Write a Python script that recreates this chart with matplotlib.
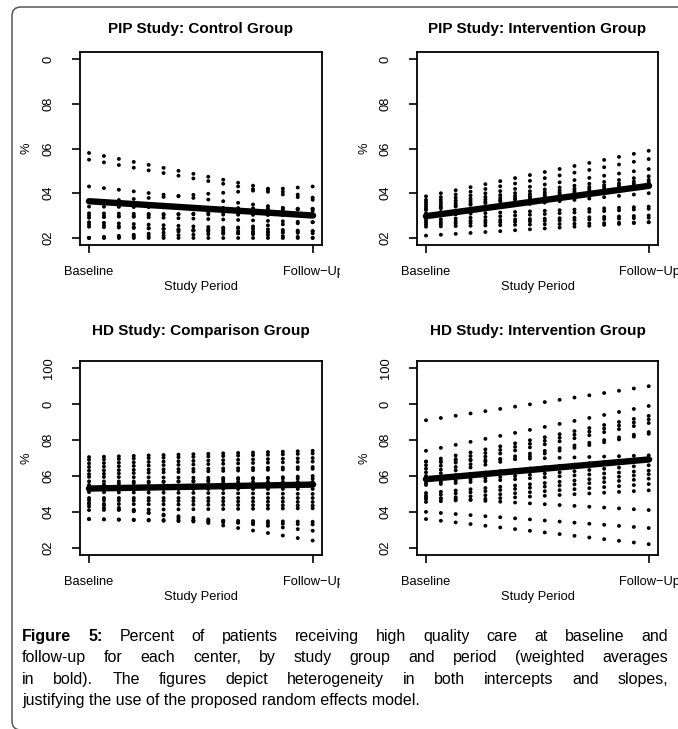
import numpy as np
import matplotlib.pyplot as plt
from matplotlib.patches import FancyBboxPatch
from matplotlib.transforms import Bbox, TransformedBbox

plt.rcParams['font.family'] = 'Liberation Sans'
plt.rcParams['lines.scale_dashes'] = False

W, H = 678, 729

#%% data (percent at baseline / follow-up for each center)
x_labels = ['Baseline', 'Follow\u2212Up']

pip_ctrl_base = [58, 55, 43, 36, 34, 31, 30, 29, 27, 25, 20, 20, 20, 26]
pip_ctrl_follow = [38, 37, 32, 43, 33, 30, 27, 33, 23, 22, 20, 27, 23, 20]
pip_ctrl_mean = [36.4, 30.0]

pip_int_base = [38.6, 37, 36, 35, 34, 32.5, 31, 30, 28, 27, 25, 21, 26, 33]
pip_int_follow = [59, 55.3, 50.8, 47.6, 46, 44, 40, 34, 33, 30, 27, 27, 29, 45]
pip_int_mean = [29.7, 43.3]

hd_comp_base = [70.5, 69, 67, 65, 63, 61, 59.5, 57, 55, 54, 53, 51, 48, 46.5,
                44.5, 43, 41, 45, 36, 36]
hd_comp_follow = [74, 72.5, 70, 68, 65, 64, 58.5, 56.7, 60, 55, 53, 50, 48, 45.5,
                  43.5, 29.5, 42, 24, 34.5, 33]
hd_comp_mean = [53.0, 55.2]

hd_int_base = [91, 74, 68, 66, 64, 62, 60, 68, 59, 56, 55, 50.5, 49, 47, 45.5,
               48, 40, 36]
hd_int_follow = [110, 99, 93.5, 91.5, 89.5, 84.5, 83.5, 71.5, 70, 66, 63, 61,
                 58.5, 55.5, 52, 41, 31, 22]
hd_int_mean = [58.2, 69.2]

pip_yticks = [20, 40, 60, 80, 100]
pip_ylabels = ['02', '04', '06', '08', '0']
hd_yticks = [20, 40, 60, 80, 100, 120]
hd_ylabels = ['02', '04', '06', '08', '0', '100']

caption = [
    [('Figure', 'bold'), ('5:', 'bold')] + [(w, 'normal') for w in
        'Percent of patients receiving high quality care at baseline and'.split()],
    [(w, 'normal') for w in
        'follow-up for each center, by study group and period (weighted averages'.split()],
    [(w, 'normal') for w in
        'in bold). The figures depict heterogeneity in both intercepts and slopes,'.split()],
]
caption_last = 'justifying the use of the proposed random effects model.'
cap_size = 11.5

fig = plt.figure(figsize=(W / 100, H / 100), dpi=100)


def fx(px):
    return px / W


def fy(py):
    return 1 - py / H


def panel(box, title, title_y, base, follow, mean, yticks, ylabels, clip_right=None):
    l, t, r, b = box
    ax = fig.add_axes([fx(l), fy(b), (r - l) / W, (b - t) / H])
    ax.set_xlim(-0.04, 1.04)
    span = yticks[-1] - yticks[0]
    ax.set_ylim(yticks[0] - 0.04 * span, yticks[-1] + 0.04 * span)
    for b0, f0 in zip(base, follow):
        p0, p1 = ax.transData.transform([(0, b0), (1, f0)])
        L = np.hypot(*(p1 - p0))
        gap = L / 15 * 72 / fig.dpi * 0.998
        ax.plot([0, 1], [b0, f0], color='black', lw=2.8,
                linestyle=(0, (0.1, gap - 0.1)), dash_capstyle='round')
    ax.plot([0, 1], mean, color='black', lw=4.6, solid_capstyle='round')

    ax.set_xticks([0, 1])
    ax.set_xticklabels(x_labels, fontsize=9.3)
    ax.set_yticks(yticks)
    ax.set_yticklabels(ylabels, fontsize=9.3)
    ax.tick_params(axis='x', length=6, width=1.2, pad=9)
    ax.tick_params(axis='y', length=6, width=1.2, pad=12, labelrotation=90)
    for lbl in ax.get_yticklabels():
        lbl.set_va('center')
    for s in ax.spines.values():
        s.set_linewidth(1.3)
    if clip_right is not None:
        lbl = ax.get_xticklabels()[1]
        lbl.set_clip_on(True)
        lbl.set_clip_box(TransformedBbox(Bbox.from_extents(0, 0, fx(clip_right), 1),
                                         fig.transFigure))

    cx = (l + r) / 2
    fig.text(fx(cx), fy(title_y), title, ha='center', va='baseline',
             fontsize=11, fontweight='bold')
    fig.text(fx(cx), fy(b + 42), 'Study Period', ha='center', va='center', fontsize=9.3)
    fig.text(fx(l - 53), fy((t + b) / 2), '%', ha='center',
             va='center', rotation=90, fontsize=9.3)
    return ax


ax1 = panel((80, 52, 322, 245), 'PIP Study: Control Group', 33.5,
            pip_ctrl_base, pip_ctrl_follow, pip_ctrl_mean, pip_yticks, pip_ylabels,
            clip_right=340)
ax2 = panel((417, 52, 658, 245), 'PIP Study: Intervention Group', 33.5,
            pip_int_base, pip_int_follow, pip_int_mean, pip_yticks, pip_ylabels)
ax3 = panel((80, 361, 322, 555), 'HD Study: Comparison Group', 335,
            hd_comp_base, hd_comp_follow, hd_comp_mean, hd_yticks, hd_ylabels,
            clip_right=340)
ax4 = panel((417, 361, 658, 555), 'HD Study: Intervention Group', 335,
            hd_int_base, hd_int_follow, hd_int_mean, hd_yticks, hd_ylabels)

# caption, justified word by word (last line left aligned)
renderer = fig.canvas.get_renderer()
left, right = 22, 668
baselines = [641, 662, 684, 705]
for words, yb in zip(caption, baselines):
    texts = [fig.text(0, fy(yb), w, fontsize=cap_size, fontweight=wt, va='baseline')
             for w, wt in words]
    widths = [t.get_window_extent(renderer).width for t in texts]
    space = (right - left - sum(widths)) / (len(words) - 1)
    x = left
    for t, w in zip(texts, widths):
        t.set_x(fx(x))
        x += w + space
fig.text(fx(left), fy(baselines[3]), caption_last, fontsize=cap_size, va='baseline')

# rounded frame (bottom edge falls just below the image)
frame = FancyBboxPatch((0.12, -0.01), 7.2, 7.23,
                       boxstyle='round,pad=0,rounding_size=0.09',
                       transform=fig.dpi_scale_trans, fill=False,
                       ec='#555555', lw=1.1)
fig.add_artist(frame)

fig.savefig('out.png', dpi=100)
